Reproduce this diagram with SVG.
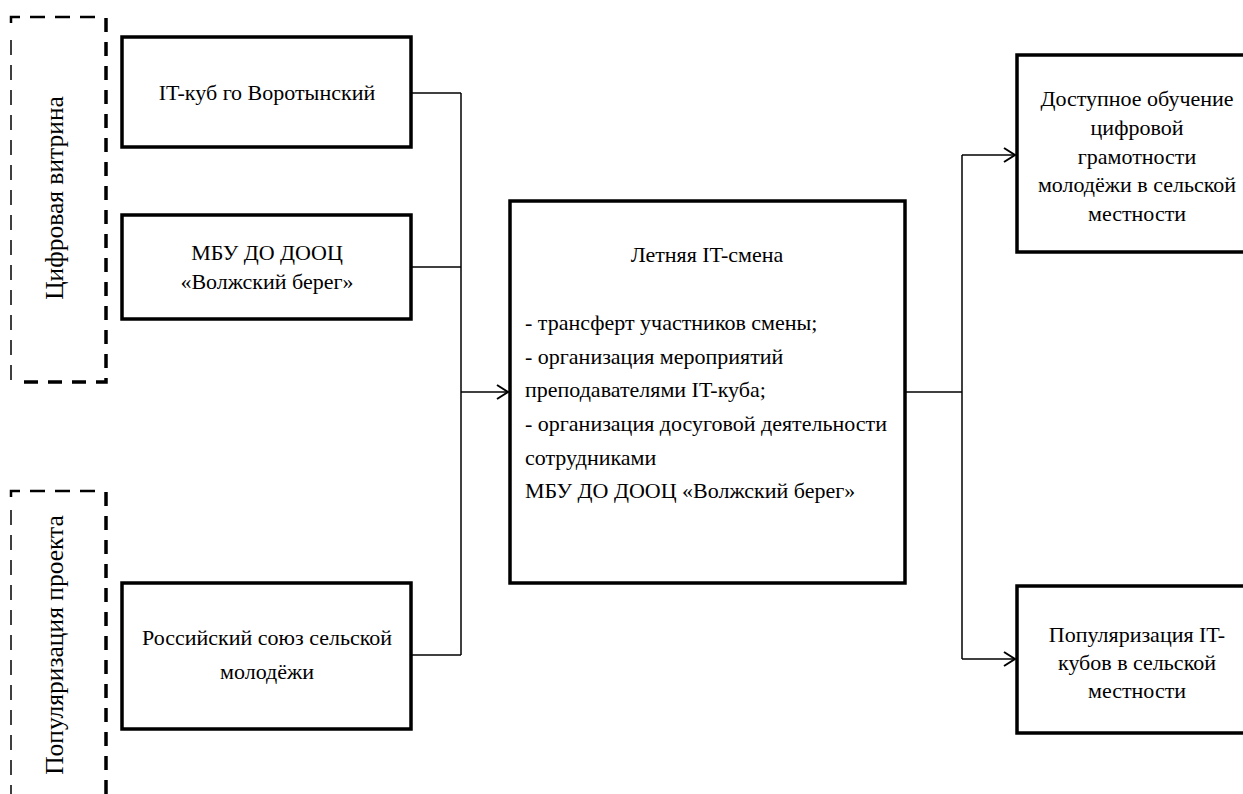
<svg xmlns="http://www.w3.org/2000/svg" width="1243" height="794" viewBox="0 0 1243 794">
<style>
.box{fill:#fff;stroke:#000;stroke-width:3.5}
text{font-family:'Liberation Serif','DejaVu Serif',serif;fill:#000}
.t{font-size:22px}
.c{text-anchor:middle}
.vt{font-size:25.5px;text-anchor:middle}
.dthin{fill:none;stroke:#000;stroke-width:1.5;stroke-dasharray:15,10}
.dtop{fill:none;stroke:#000;stroke-width:2.5;stroke-dasharray:15,10}
.dthick{fill:none;stroke:#000;stroke-width:3.5;stroke-dasharray:14,10}
.ln{fill:none;stroke:#000;stroke-width:1.5}
</style>
<defs>
<marker id="arr" markerWidth="16" markerHeight="16" refX="13" refY="8" orient="auto" markerUnits="userSpaceOnUse">
<path d="M2,1 L13,8 L2,15" fill="none" stroke="#000" stroke-width="2"/>
</marker>
</defs>
<rect width="1243" height="794" fill="#fff"/>
<g id="group-digital">
<path class="dthin" d="M11,380 V30"/>
<path class="dtop" d="M11,23 V17 H100"/>
<path class="dthick" d="M106,18 V382 H20"/>
<text class="vt" transform="translate(63,198) rotate(-90)">Цифровая витрина</text>
</g>
<g id="group-popular">
<path class="dthin" d="M11,800 V505"/>
<path class="dtop" d="M11,497 V491 H100"/>
<path class="dthick" d="M106,492 V800"/>
<text class="vt" transform="translate(63,645) rotate(-90)">Популяризация проекта</text>
</g>
<g id="connectors">
<path class="ln" d="M411,93 H461"/>
<path class="ln" d="M411,267 H461"/>
<path class="ln" d="M411,655 H461"/>
<path class="ln" d="M461,93 V655"/>
<path class="ln" d="M461,392 H508" marker-end="url(#arr)"/>
<path class="ln" d="M905,392 H962"/>
<path class="ln" d="M962,155 V659"/>
<path class="ln" d="M962,155 H1015" marker-end="url(#arr)"/>
<path class="ln" d="M962,659 H1015" marker-end="url(#arr)"/>
</g>
<g id="node-itcube">
<rect class="box" x="122" y="37" width="289" height="110"/>
<text class="t c" x="267" y="100">IT-куб го Воротынский</text>
</g>
<g id="node-mbu">
<rect class="box" x="122" y="215" width="289" height="104"/>
<text class="t c" x="267" y="260">МБУ ДО ДООЦ</text>
<text class="t c" x="267" y="289">«Волжский берег»</text>
</g>
<g id="node-rsm">
<rect class="box" x="122" y="583" width="289" height="146"/>
<text class="t c" x="267" y="645">Российский союз сельской</text>
<text class="t c" x="267" y="679">молодёжи</text>
</g>
<g id="node-center">
<rect class="box" x="510" y="201" width="395" height="382"/>
<text class="t c" x="707" y="262">Летняя IT-смена</text>
<text class="t" x="525" y="330">- трансферт участников смены;</text>
<text class="t" x="525" y="364">- организация мероприятий</text>
<text class="t" x="525" y="397">преподавателями IT-куба;</text>
<text class="t" x="525" y="431">- организация досуговой деятельности</text>
<text class="t" x="525" y="465">сотрудниками</text>
<text class="t" x="525" y="498">МБУ ДО ДООЦ «Волжский берег»</text>
</g>
<g id="node-result1">
<rect class="box" x="1017" y="55" width="240" height="197"/>
<text class="t c" x="1137" y="106">Доступное обучение</text>
<text class="t c" x="1137" y="135">цифровой</text>
<text class="t c" x="1137" y="164">грамотности</text>
<text class="t c" x="1137" y="192">молодёжи в сельской</text>
<text class="t c" x="1137" y="221">местности</text>
</g>
<g id="node-result2">
<rect class="box" x="1017" y="586" width="240" height="147"/>
<text class="t c" x="1137" y="642">Популяризация IT-</text>
<text class="t c" x="1137" y="670">кубов в сельской</text>
<text class="t c" x="1137" y="698">местности</text>
</g>
</svg>
